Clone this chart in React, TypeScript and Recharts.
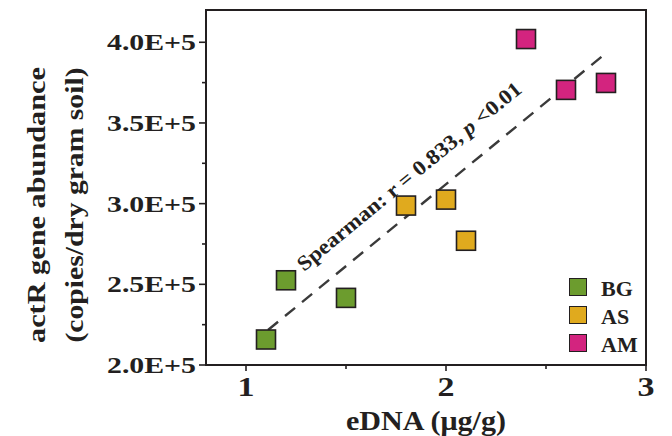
import React from "react";
import {
  ScatterChart,
  Scatter,
  XAxis,
  YAxis,
  ReferenceLine,
  Legend,
  Customized,
} from "recharts";

// eDNA (µg/g) vs actR gene abundance
const bgX = [1.1, 1.2, 1.5];
const bgY = [215800, 252500, 241600];
const asX = [1.8, 2.0, 2.1];
const asY = [298800, 302500, 277000];
const amX = [2.4, 2.6, 2.8];
const amY = [402000, 370500, 374800];

// fitted trend line ends
const fitX = [1.11, 2.805];
const fitY = [221700, 393800];

const xTicks = [1, 1.5, 2, 2.5, 3];
const xMajor = [1, 2, 3];
const yTicks = [200000, 225000, 250000, 275000, 300000, 325000, 350000, 375000, 400000];
const yMajor = [200000, 250000, 300000, 350000, 400000];
const yLabels = ["2.0E+5", "2.5E+5", "3.0E+5", "3.5E+5", "4.0E+5"];

const X_MIN = 0.8;
const X_MAX = 3;
const Y_MIN = 200000;
const Y_MAX = 420000;

const groups = [
  { name: "BG", color: "#6c9c2e", xs: bgX, ys: bgY },
  { name: "AS", color: "#e0aa1e", xs: asX, ys: asY },
  { name: "AM", color: "#d3247f", xs: amX, ys: amY },
];

const FONT = "Liberation Serif, Times New Roman, Times, serif";
const INK = "#231f20";

// plot box (chart margins + axis sizes)
const MARGIN = { top: 10, right: 26, bottom: 0, left: 0 };
const Y_AXIS_W = 206;
const X_AXIS_H = 71;
const W = 672;
const H = 436;
const PLOT_X = MARGIN.left + Y_AXIS_W;
const PLOT_Y = MARGIN.top;
const PLOT_W = W - MARGIN.right - PLOT_X;
const PLOT_H = H - MARGIN.bottom - X_AXIS_H - PLOT_Y;

const toPoints = (xs: number[], ys: number[]) =>
  xs.map((x, i) => ({ x, y: ys[i] }));

const Square = (props: any) => {
  const { cx, cy, fill } = props;
  return (
    <rect
      x={cx - 9.5}
      y={cy - 9.5}
      width={19}
      height={19}
      fill={fill}
      stroke={INK}
      strokeWidth={1.6}
    />
  );
};

const YTick = (props: any) => {
  const { x, y, payload } = props;
  const idx = yMajor.indexOf(payload.value);
  const major = idx >= 0;
  return (
    <g>
      <line x1={x - (major ? 7 : 4)} x2={x} y1={y} y2={y} stroke={INK} strokeWidth={1.6} />
      {major && (
        <text
          x={x - 10}
          y={y + 8}
          textAnchor="end"
          style={{ fontFamily: FONT }}
          fontWeight="bold"
          fontSize={24}
          fill={INK}
          textLength={89}
          lengthAdjust="spacingAndGlyphs"
        >
          {yLabels[idx]}
        </text>
      )}
    </g>
  );
};

const XTick = (props: any) => {
  const { x, y, payload } = props;
  const major = xMajor.includes(payload.value);
  return (
    <g>
      <line x1={x} x2={x} y1={y} y2={y + (major ? 6 : 4)} stroke={INK} strokeWidth={1.6} />
      {major && (
        <text
          x={x}
          y={y + 31}
          textAnchor="middle"
          style={{ fontFamily: FONT }}
          fontWeight="bold"
          fontSize={28}
          fill={INK}
          textLength={17}
          lengthAdjust="spacingAndGlyphs"
        >
          {payload.value}
        </text>
      )}
    </g>
  );
};

const renderLegend = () => (
  <div style={{ fontFamily: FONT, fontWeight: "bold", fontSize: 22, color: INK }}>
    {groups.map((g) => (
      <div key={g.name} style={{ display: "flex", alignItems: "center", height: 28 }}>
        <span
          style={{
            display: "inline-block",
            width: 16,
            height: 16,
            background: g.color,
            border: `1.6px solid ${INK}`,
            marginRight: 14,
          }}
        />
        <span style={{ lineHeight: "28px", paddingTop: 4 }}>{g.name}</span>
      </div>
    ))}
  </div>
);

const Annotations = () => (
  <g style={{ fontFamily: FONT }} fontWeight="bold" fill={INK}>
    <text
      transform="translate(37,205) rotate(-90)"
      textAnchor="middle"
      fontSize={26}
      textLength={276}
      lengthAdjust="spacingAndGlyphs"
      dy={8}
    >
      actR gene abundance
    </text>
    <text
      transform="translate(75,205) rotate(-90)"
      textAnchor="middle"
      fontSize={26}
      textLength={275}
      lengthAdjust="spacingAndGlyphs"
      dy={8}
    >
      (copies/dry gram soil)
    </text>
    <text
      x={426}
      y={430}
      textAnchor="middle"
      fontSize={27}
      textLength={160}
      lengthAdjust="spacingAndGlyphs"
    >
      eDNA (μg/g)
    </text>
    <text
      transform="translate(304,272) rotate(-39.5)"
      fontSize={21}
      textLength={284}
      lengthAdjust="spacingAndGlyphs"
    >
      Spearman: r = 0.833, <tspan fontStyle="italic">p</tspan> {"<0.01"}
    </text>
  </g>
);

export default function App() {
  return (
    <div style={{ position: "absolute", left: 0, top: 0, width: W, height: H, background: "#fff" }}>
      <ScatterChart width={W} height={H} margin={MARGIN}>
        <XAxis
          type="number"
          dataKey="x"
          domain={[X_MIN, X_MAX]}
          ticks={xTicks}
          tick={<XTick />}
          tickSize={0}
          tickMargin={0}
          height={X_AXIS_H}
          axisLine={{ stroke: INK, strokeWidth: 2 }}
          allowDataOverflow
        />
        <YAxis
          type="number"
          dataKey="y"
          domain={[Y_MIN, Y_MAX]}
          ticks={yTicks}
          tick={<YTick />}
          tickSize={0}
          tickMargin={0}
          width={Y_AXIS_W}
          axisLine={{ stroke: INK, strokeWidth: 2 }}
          allowDataOverflow
        />
        <ReferenceLine
          segment={[
            { x: fitX[0], y: fitY[0] },
            { x: fitX[1], y: fitY[1] },
          ]}
          stroke="#3a3a3a"
          strokeWidth={2.4}
          strokeDasharray="13 9"
        />
        {groups.map((g) => (
          <Scatter
            key={g.name}
            name={g.name}
            data={toPoints(g.xs, g.ys)}
            fill={g.color}
            shape={<Square />}
            isAnimationActive={false}
          />
        ))}
        <Legend
          layout="vertical"
          align="center"
          verticalAlign="middle"
          content={renderLegend}
          wrapperStyle={{ left: 569, top: 273, width: 80, height: 84 }}
        />
        <Customized component={<Annotations />} />
      </ScatterChart>
      {/* plot frame */}
      <div
        style={{
          position: "absolute",
          left: PLOT_X - 1,
          top: PLOT_Y - 1,
          width: PLOT_W + 2,
          height: PLOT_H + 2,
          border: `2px solid ${INK}`,
          boxSizing: "border-box",
          pointerEvents: "none",
        }}
      />
    </div>
  );
}
